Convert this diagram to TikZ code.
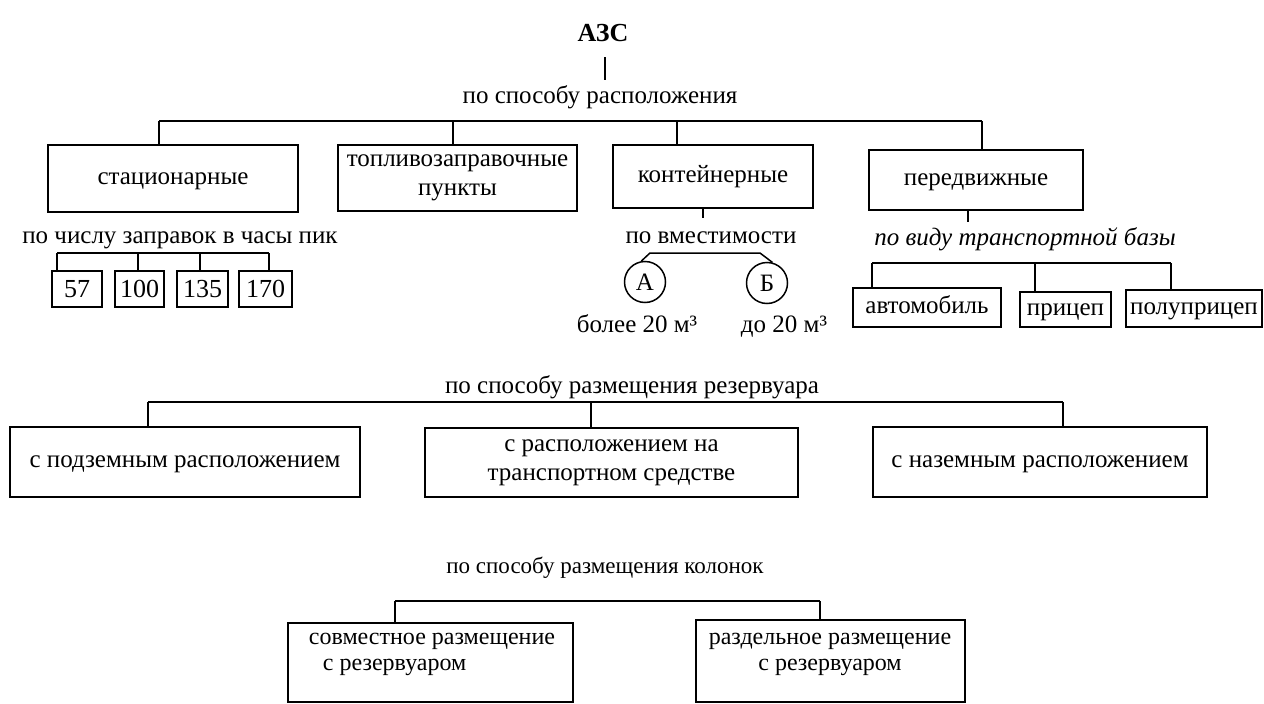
\documentclass[tikz,border=0pt]{standalone}
\usepackage{fontspec}
\setmainfont{Liberation Serif}
\begin{document}
\begin{tikzpicture}[x=1pt,y=-1pt,
  txt/.style={font=\fontsize{25}{29}\selectfont},
  every node/.style={txt, inner sep=0pt},
  sl/.style={text height=11.5pt, text depth=0pt},
  capht/.style={text height=17pt, text depth=0pt},
  box/.style={draw, line width=1.5pt, align=center},
  ln/.style={line width=1.5pt},
  circ/.style={circle, draw, line width=1.5pt, minimum size=41pt, text height=16pt, text depth=0pt}]
\useasboundingbox (0,0) rectangle (1264,704);

% ---- top level
\node[capht, font=\bfseries\fontsize{26}{30}\selectfont] (azs) at (603,33) {АЗС};
\coordinate (c0) at (605,57);
\coordinate (c0e) at (605,80);
\draw[ln] (c0) -- (c0e);
\node[sl] (l1) at (600,98) {по способу расположения};

\node[box, sl, minimum width=250pt, minimum height=67pt] (st) at (173,178.5) {стационарные};
\node[box, minimum width=239pt, minimum height=66pt] (tp) at (457.5,178) {топливозаправочные\\пункты};
\node[box, sl, minimum width=200pt, minimum height=63pt] (kn) at (713,176.5) {контейнерные};
\node[box, sl, minimum width=214pt, minimum height=60pt] (pd) at (976,180) {передвижные};

\coordinate (t1) at (159,121);
\coordinate (t2) at (453,121);
\coordinate (t3) at (677,121);
\coordinate (t4) at (982,121);
\draw[ln] (t1) -- (t4);
\foreach \t/\b in {t1/st, t2/tp, t3/kn, t4/pd} \draw[ln] (\t) -- (\t |- \b.north);

% ---- stationary
\node[sl] (l2) at (180,238) {по числу заправок в часы пик};
\tikzset{num/.style={box, capht, minimum height=36pt, font=\fontsize{26}{30}\selectfont}}
\node[num, minimum width=50pt] (n57) at (77,289) {57};
\node[num, minimum width=49pt] (n100) at (139.5,289) {100};
\node[num, minimum width=51pt] (n135) at (202.5,289) {135};
\node[num, minimum width=53pt] (n170) at (265.5,289) {170};
\coordinate (s1) at (57,253);
\coordinate (s2) at (138,253);
\coordinate (s3) at (200,253);
\coordinate (s4) at (269,253);
\draw[ln] (s1) -- (s4);
\foreach \t/\b in {s1/n57, s2/n100, s3/n135, s4/n170} \draw[ln] (\t) -- (\t |- \b.north);

% ---- container
\coordinate (kt) at (703,218);
\draw[ln] (kt |- kn.south) -- (kt);
\node[sl] (l3) at (711,238) {по вместимости};
\node[circ] (cA) at (645,282) {А};
\node[circ] (cB) at (767,283) {Б};
\coordinate (kA) at (650,253);
\coordinate (kB) at (760,253);
\draw[ln] (cA.100) -- (kA) -- (kB) -- (cB.75);
\node[sl] (m1) at (637,327) {более 20 м³};
\node[sl] (m2) at (784,327) {до 20 м³};

% ---- mobile
\coordinate (pt) at (968,222);
\draw[ln] (pt |- pd.south) -- (pt);
\node[sl, font=\itshape\fontsize{25}{29}\selectfont] (l4) at (1025,240) {по виду транспортной базы};
\node[box, sl, minimum width=148pt, minimum height=39pt] (avt) at (927,307.5) {автомобиль};
\node[box, sl, minimum width=91pt, minimum height=35pt] (pri) at (1065.5,309.5) {прицеп};
\node[box, sl, minimum width=136pt, minimum height=37pt] (pol) at (1194,308.5) {полуприцеп};
\coordinate (p1) at (872,263);
\coordinate (p2) at (1035,263);
\coordinate (p3) at (1171,263);
\draw[ln] (p1) -- (p3);
\foreach \t/\b in {p1/avt, p2/pri, p3/pol} \draw[ln] (\t) -- (\t |- \b.north);

% ---- reservoir
\node[sl] (l5) at (632,388) {по способу размещения резервуара};
\node[box, sl, minimum width=350pt, minimum height=70pt] (r1) at (185,462) {с подземным расположением};
\node[box, minimum width=373pt, minimum height=69pt] (r2) at (611.5,462.5) {с расположением на\\транспортном средстве};
\node[box, sl, minimum width=334pt, minimum height=70pt] (r3) at (1040,462) {с наземным расположением};
\coordinate (r1c) at (148,402);
\coordinate (r2c) at (591,402);
\coordinate (r3c) at (1063,402);
\draw[ln] (r1c) -- (r3c);
\foreach \t/\b in {r1c/r1, r2c/r2, r3c/r3} \draw[ln] (\t) -- (\t |- \b.north);

% ---- columns
\node[sl, font=\fontsize{23}{27}\selectfont] (l6) at (605,568) {по способу размещения колонок};
\node[box, minimum width=285pt, minimum height=79pt] (k1) at (430.5,662.5) {};
\node[box, minimum width=269pt, minimum height=82pt] (k2) at (830.5,661) {};
\node[align=left, font=\fontsize{24}{26}\selectfont] (k1t) at (432,654) {совместное размещение\\\hspace*{14pt}с резервуаром};
\node[align=center, font=\fontsize{24}{26}\selectfont] (k2t) at (830,654) {раздельное размещение\\с резервуаром};
\coordinate (q1) at (395,601);
\coordinate (q2) at (820,601);
\draw[ln] (q1) -- (q2);
\foreach \t/\b in {q1/k1, q2/k2} \draw[ln] (\t) -- (\t |- \b.north);
\end{tikzpicture}
\end{document}
